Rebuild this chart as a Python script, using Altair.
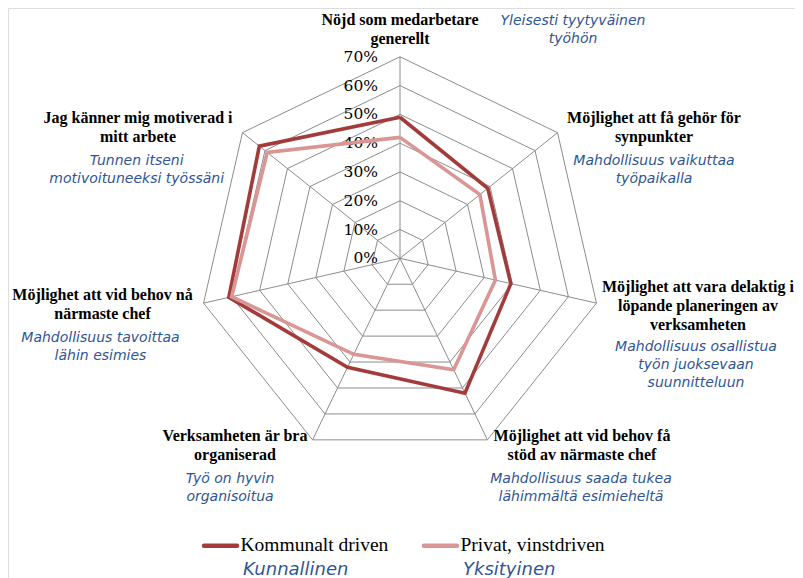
import altair as alt
import pandas as pd

# ---------------- data ----------------
categories_sv = [
    "Nöjd som medarbetare\ngenerellt",
    "Möjlighet att få gehör för\nsynpunkter",
    "Möjlighet att vara delaktig i\nlöpande planeringen av\nverksamheten",
    "Möjlighet att vid behov få\nstöd av närmaste chef",
    "Verksamheten är bra\norganiserad",
    "Möjlighet att vid behov nå\nnärmaste chef",
    "Jag känner mig motiverad i\nmitt arbete",
]
categories_fi = [
    "Yleisesti tyytyväinen\ntyöhön",
    "Mahdollisuus vaikuttaa\ntyöpaikalla",
    "Mahdollisuus osallistua\ntyön juoksevaan\nsuunnitteluun",
    "Mahdollisuus saada tukea\nlähimmältä esimieheltä",
    "Työ on hyvin\norganisoitua",
    "Mahdollisuus tavoittaa\nlähin esimies",
    "Tunnen itseni\nmotivoituneeksi työssäni",
]
series_sv = ["Kommunalt driven", "Privat, vinstdriven"]
series_fi = ["Kunnallinen", "Yksityinen"]
kommunalt = [49, 39, 39.5, 52, 42, 61, 62.5]
privat = [42, 35.5, 34, 43, 37, 60, 59]
tick_values = [0, 10, 20, 30, 40, 50, 60, 70]
tick_labels = ["0%", "10%", "20%", "30%", "40%", "50%", "60%", "70%"]

# ---------------- layout (pixels, page coordinates) ----------------
W, H = 787, 570
MARGIN = 8
CX, CY, R70 = 400, 258.3, 201.5
k = R70 / 70.0
xmin = -(CX - MARGIN) / k
xmax = xmin + W / k
ymax = (CY - MARGIN) / k
ymin = ymax - H / k

sv_pos = [(400, 25), (654, 122.7), (698, 291.7), (582, 440.7),
          (235, 440.7), (102.5, 300), (138, 122.7)]
fi_pos = [(573, 24.5), (654, 165), (696, 350.5), (581, 483.3),
          (230, 483.3), (100.5, 341.7), (136.7, 165)]

colors = ["#A33B3A", "#D99694"]
FI_COLOR = "#2F5597"
GRID = "#8C8C8C"
N = len(categories_sv)

xs = alt.Scale(domain=[xmin, xmax], nice=False, zero=False)
ys = alt.Scale(domain=[ymin, ymax], nice=False, zero=False)
ang = f"datum.i * 2 * PI / {N}"
polar = dict(x=f"datum.v * sin({ang})", y=f"datum.v * cos({ang})")

# grid polygons
grid_rows = []
for lvl in tick_values[1:]:
    for i in range(N + 1):
        grid_rows.append({"lvl": lvl, "i": i % N, "o": i, "v": lvl})
grid = (
    alt.Chart(pd.DataFrame(grid_rows))
    .transform_calculate(**polar)
    .mark_line(color=GRID, strokeWidth=1)
    .encode(x=alt.X("x:Q", scale=xs, axis=None),
            y=alt.Y("y:Q", scale=ys, axis=None),
            detail="lvl:N", order="o:Q")
)

# spokes
spoke_df = pd.DataFrame({"i": list(range(N)), "v": [tick_values[-1]] * N})
spokes = (
    alt.Chart(spoke_df)
    .transform_calculate(**polar, x0="0", y0="0")
    .mark_rule(color=GRID, strokeWidth=1)
    .encode(x=alt.X("x0:Q", scale=xs, axis=None),
            y=alt.Y("y0:Q", scale=ys, axis=None),
            x2="x:Q", y2="y:Q")
)

# tick labels
tick_df = pd.DataFrame({"v": tick_values, "lab": tick_labels, "z": 0})
ticks = (
    alt.Chart(tick_df)
    .mark_text(align="right", baseline="middle", dx=-22, font="DejaVu Serif",
               fontSize=15.5, color="#000000")
    .encode(x=alt.X("z:Q", scale=xs, axis=None),
            y=alt.Y("v:Q", scale=ys, axis=None), text="lab:N")
)

# series
rows = []
for s, vals in zip(series_sv, [kommunalt, privat]):
    for i in range(N + 1):
        rows.append({"s": s, "i": i % N, "o": i, "v": vals[i % N]})
series_df = pd.DataFrame(rows)
lines = []
for s, c in zip(series_sv, colors):
    lines.append(
        alt.Chart(series_df)
        .transform_filter(alt.datum.s == s)
        .transform_calculate(**polar)
        .mark_line(color=c, strokeWidth=3.6, strokeJoin="miter")
        .encode(x=alt.X("x:Q", scale=xs, axis=None),
                y=alt.Y("y:Q", scale=ys, axis=None), order="o:Q")
    )

# category labels
sv_df = pd.DataFrame({"t": categories_sv,
                      "px": [p[0] - MARGIN for p in sv_pos],
                      "py": [p[1] - MARGIN for p in sv_pos]})
fi_df = pd.DataFrame({"t": categories_fi,
                      "px": [p[0] - MARGIN for p in fi_pos],
                      "py": [p[1] - MARGIN for p in fi_pos]})
sv_text = (
    alt.Chart(sv_df)
    .mark_text(align="center", baseline="alphabetic", lineBreak="\n",
               lineHeight=19.2, font="Liberation Serif", fontWeight="bold",
               fontSize=16, color="#000000")
    .encode(x=alt.X("px:Q", scale=None), y=alt.Y("py:Q", scale=None), text="t:N")
)
fi_text = (
    alt.Chart(fi_df)
    .mark_text(align="center", baseline="alphabetic", lineBreak="\n",
               lineHeight=18, font="DejaVu Sans", fontStyle="italic",
               fontSize=14, color=FI_COLOR)
    .encode(x=alt.X("px:Q", scale=None), y=alt.Y("py:Q", scale=None), text="t:N")
)

# legend
leg_x = [202, 422]
leg_layers = []
for j in range(2):
    x0 = leg_x[j] - MARGIN
    leg_layers.append(
        alt.Chart(pd.DataFrame({"a": [0]}))
        .mark_rule(color=colors[j], strokeWidth=4.5, strokeCap="round")
        .encode(x=alt.value(x0 + 2), x2=alt.value(x0 + 35), y=alt.value(545.7 - MARGIN))
    )
    leg_layers.append(
        alt.Chart(pd.DataFrame({"t": [series_sv[j]]}))
        .mark_text(align="left", baseline="alphabetic", font="Liberation Serif",
                   fontSize=19.5, color="#000000")
        .encode(x=alt.value(x0 + 38.5), y=alt.value(550.7 - MARGIN), text="t:N")
    )
    leg_layers.append(
        alt.Chart(pd.DataFrame({"t": [series_fi[j]]}))
        .mark_text(align="left", baseline="alphabetic", font="DejaVu Sans",
                   fontStyle="italic", fontSize=18, color=FI_COLOR)
        .encode(x=alt.value(x0 + 41), y=alt.value(575 - MARGIN), text="t:N")
    )

chart = (
    alt.layer(grid, spokes, ticks, *lines, sv_text, fi_text, *leg_layers)
    .properties(width=W, height=H, padding=0, autosize=alt.AutoSizeParams(type="none"))
    .configure_view(stroke=None)
    .configure(background="white")
)

chart.save("out.html", embed_options={"renderer": "svg", "actions": False})
